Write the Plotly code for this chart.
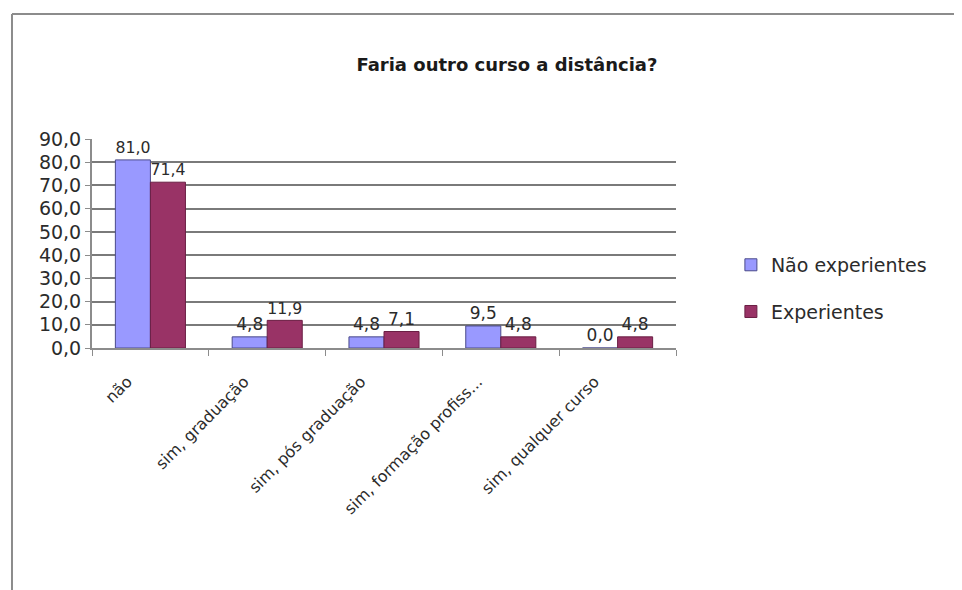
import plotly.graph_objects as go

categories = ["não", "sim, graduação", "sim, pós graduação", "sim, formação profiss...", "sim, qualquer curso"]
nao_experientes = [81.0, 4.8, 4.8, 9.5, 0.0]
experientes = [71.4, 11.9, 7.1, 4.8, 4.8]
y_ticks = [0, 10, 20, 30, 40, 50, 60, 70, 80, 90]

FONT = "DejaVu Sans, sans-serif"
TXT = "#2b2b2b"

fig = go.Figure()
fig.add_trace(go.Bar(
    x=categories, y=nao_experientes, name="Não experientes",
    marker=dict(color="#9999FF", line=dict(color="#4a4a8a", width=1)),
    texttemplate="%{y:.1f}", textposition="outside",
    textfont=dict(size=17, color=TXT, family=FONT),
    cliponaxis=False, legendgroup="a",
))
fig.add_trace(go.Bar(
    x=categories, y=experientes, name="Experientes",
    marker=dict(color="#993366", line=dict(color="#6a1f44", width=1)),
    texttemplate="%{y:.1f}", textposition="outside",
    textfont=dict(size=17, color=TXT, family=FONT),
    cliponaxis=False, legendgroup="b",
))

# chart frame (top and left edges visible in the crop)
fig.add_shape(type="line", xref="paper", yref="paper", x0=-0.137, x1=1.5, y0=1.598, y1=1.598,
              line=dict(color="#8c8c8c", width=2))
fig.add_shape(type="line", xref="paper", yref="paper", x0=-0.137, x1=-0.137, y0=1.598, y1=-1.2,
              line=dict(color="#8c8c8c", width=2))

fig.update_layout(
    width=954, height=582,
    margin=dict(l=84, r=286, t=131, b=242),
    paper_bgcolor="white", plot_bgcolor="white",
    separators=",.",
    barmode="group", bargap=0.4, bargroupgap=0,
    title=dict(text="<b>Faria outro curso a distância?</b>", x=0.523, xref="container",
               y=0.902, yref="container", xanchor="center", yanchor="middle",
               font=dict(size=18, color="#1a1a1a", family=FONT)),
    font=dict(family=FONT, color=TXT),
    legend=dict(x=1.094, xanchor="left", y=0.285, yanchor="middle",
                font=dict(size=19, color=TXT, family=FONT),
                traceorder="grouped", tracegroupgap=19, itemwidth=30,
                bgcolor="rgba(0,0,0,0)"),
    xaxis=dict(tickangle=-45, tickfont=dict(size=16, color=TXT, family=FONT),
               showline=True, linecolor="#8c8c8c", linewidth=2,
               ticks="outside", tickson="boundaries", ticklen=6, tickcolor="#8c8c8c",
               ticklabelshift=-23, ticklabelstandoff=16,
               showgrid=False),
    yaxis=dict(range=[0, 90], tickvals=y_ticks, tickformat=".1f",
               tickfont=dict(size=19, color=TXT, family=FONT),
               showgrid=True, gridcolor="#7a7a7a", gridwidth=1.5,
               showline=True, linecolor="#8c8c8c", linewidth=2,
               ticks="outside", ticklen=5, tickcolor="#8c8c8c", zeroline=False),
)

fig.write_html("out.html")
